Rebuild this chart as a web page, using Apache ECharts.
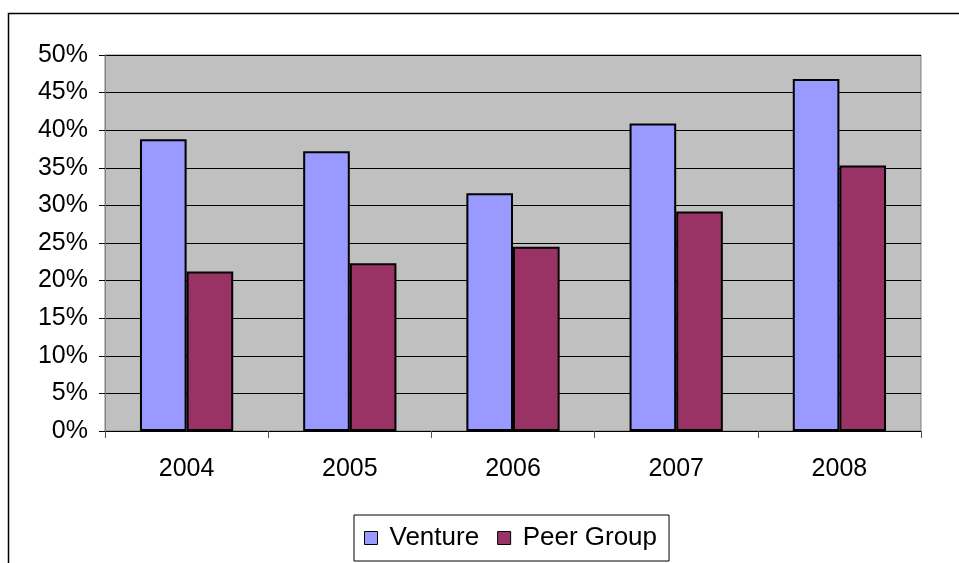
<!DOCTYPE html>
<html>
<head>
<meta charset="utf-8">
<script src="https://cdn.jsdelivr.net/npm/echarts@6/dist/echarts.min.js"></script>
<style>
html,body{margin:0;padding:0;background:#fff;}
#c{width:959px;height:563px;}
</style>
</head>
<body>
<div id="c"></div>
<script>
var categories = ['2004', '2005', '2006', '2007', '2008'];
var ventureValues = [38.8, 37.2, 31.6, 40.9, 46.8];
var peerValues = [21.2, 22.3, 24.5, 29.2, 35.3];
var seriesNames = ['Venture', 'Peer Group'];
var yTicks = [0, 5, 10, 15, 20, 25, 30, 35, 40, 45, 50];

var font = 'Liberation Sans, Arial, sans-serif';
var chart = echarts.init(document.getElementById('c'), null, {renderer: 'canvas'});
chart.setOption({
  animation: false,
  backgroundColor: '#ffffff',
  graphic: [{
    type: 'rect',
    shape: {x: 8.5, y: 13.5, width: 2000, height: 2000},
    style: {fill: 'none', stroke: '#000', lineWidth: 1.5},
    silent: true, z: -1
  }],
  grid: {
    left: 105, top: 55, right: 38, bottom: 132,
    show: true, backgroundColor: '#C0C0C0', borderColor: '#808080', borderWidth: 1
  },
  legend: {
    data: seriesNames,
    left: 354, top: 515,
    orient: 'horizontal',
    icon: 'rect',
    itemWidth: 13, itemHeight: 13,
    itemGap: 18,
    padding: [10, 12, 10, 10],
    borderColor: '#000', borderWidth: 1,
    itemStyle: {borderColor: '#000', borderWidth: 1},
    textStyle: {fontFamily: font, fontSize: 26, color: '#000', padding: [0, 0, 0, 7]}
  },
  xAxis: {
    type: 'category',
    data: categories,
    axisLine: {lineStyle: {color: '#000', width: 1}},
    axisTick: {show: true, length: 7, lineStyle: {color: '#555'}},
    axisLabel: {fontFamily: font, fontSize: 25, color: '#000', margin: 26},
    splitLine: {show: false}
  },
  yAxis: {
    type: 'value',
    min: yTicks[0], max: yTicks[yTicks.length - 1], interval: 5,
    axisLine: {show: true, lineStyle: {color: '#808080', width: 1}},
    axisTick: {show: true, length: 6, lineStyle: {color: '#000'}},
    axisLabel: {fontFamily: font, fontSize: 25, color: '#000', margin: 17,
      formatter: function (v) { return v + '%'; }},
    splitLine: {show: true, lineStyle: {color: '#000', width: 1}}
  },
  series: [{
    name: seriesNames[0], type: 'bar', data: ventureValues,
    barGap: '0%', barCategoryGap: '42.86%',
    itemStyle: {color: '#9999FF', borderColor: '#000', borderWidth: 2}
  }, {
    name: seriesNames[1], type: 'bar', data: peerValues,
    barGap: '0%', barCategoryGap: '42.86%',
    itemStyle: {color: '#993366', borderColor: '#000', borderWidth: 2}
  }]
});
</script>
</body>
</html>
